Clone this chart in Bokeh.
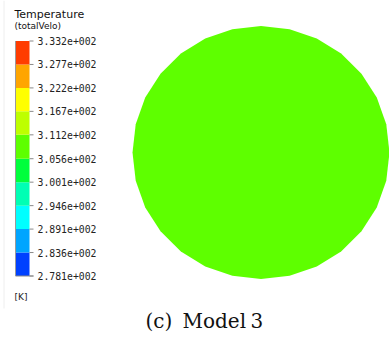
from bokeh.plotting import figure
from bokeh.models import Range1d
from bokeh.core.properties import value
from bokeh.embed import file_html
from bokeh.resources import INLINE
import numpy as np

# ---- data ----
levels = [278.1, 283.6, 289.1, 294.6, 300.1, 305.6, 311.2, 316.7, 322.2, 327.7, 333.2]
palette = ["#0041ff", "#00a5ff", "#00ffff", "#00ffb4", "#00ff3c",
           "#5eff00", "#beff00", "#ffff00", "#ffa500", "#ff3c00"]
field_value = 308.4          # uniform temperature over the section
quantity = "Temperature"
source_name = "(totalVelo)"
unit = "[K]"
caption = ["(c)", "Model", "3"]

def fmt(v):
    m, e = f"{v:.3e}".split("e")
    return f"{m}e{int(e):+04d}"

tick_labels = [fmt(v) for v in levels]

# ---- layout (picture pixel frame) ----
W, H = 389, 342
p = figure(width=W, height=H, output_backend="svg", toolbar_location=None,
           x_range=Range1d(0, W), y_range=Range1d(H, 0),
           x_axis_location=None, y_axis_location=None, min_border=0)
p.grid.visible = False
p.outline_line_color = None
p.background_fill_color = "white"

# value range mapped so that top level sits at y=40 and bottom at y=275
y_top_px, y_bot_px = 40.5, 275.5
scale = (y_bot_px - y_top_px) / (levels[-1] - levels[0])
t_start = levels[0] - (H - y_bot_px) / scale
t_end = levels[-1] + (y_top_px - 0) / scale
p.extra_y_ranges = {"temp": Range1d(t_start, t_end)}

# faint frame line at the left of the picture
p.segment(x0=3.5, x1=3.5, y0=0, y1=308, line_color="#eeeeee", line_width=1)

# color bar bands
p.quad(left=15, right=29, bottom=levels[:-1], top=levels[1:], fill_color=palette,
       line_color=None, y_range_name="temp")
p.segment(x0=15, x1=15, y0=levels[0], y1=levels[-1], line_color="#9a9a9a",
          line_width=1, y_range_name="temp")
p.segment(x0=[29] * len(levels), x1=[33] * len(levels), y0=levels, y1=levels,
          line_color="#8a8a8a", line_width=1, y_range_name="temp")
p.segment(x0=15, x1=33, y0=levels[0], y1=levels[0], line_color="#8a8a8a",
          line_width=1, y_range_name="temp")
p.text(x=[37] * len(levels), y=levels, text=tick_labels, y_range_name="temp",
       text_font=value("DejaVu Sans Mono"), text_font_size="9.8px",
       text_color="#222222", text_baseline="middle", text_align="left")

p.text(x=[14], y=[14], text=[quantity], text_font=value("DejaVu Sans"),
       text_font_size="11px", text_color="#111111", text_baseline="middle")
p.text(x=[14], y=[25], text=[source_name], text_font=value("DejaVu Sans"),
       text_font_size="9px", text_color="#111111", text_baseline="middle")
p.text(x=[14], y=[296], text=[unit], text_font=value("DejaVu Sans"),
       text_font_size="9px", text_color="#222222", text_baseline="middle")

# section colored by the field value
idx = int(np.searchsorted(levels, field_value)) - 1
ang = np.linspace(0, 2 * np.pi, 29)[:-1]
cx, cy, rx, ry = 260.5, 152, 128.5, 126.5
p.patch(cx + rx * np.cos(ang), cy + ry * np.sin(ang), fill_color=palette[idx],
        line_color=None)

# caption
p.text(x=[145, 182, 250], y=[320, 320, 320], text=caption,
       text_font=value("DejaVu Serif"), text_font_size="20px",
       text_color="#111111", text_baseline="middle", text_align="left")

open("out.html", "w").write(file_html(p, INLINE))
